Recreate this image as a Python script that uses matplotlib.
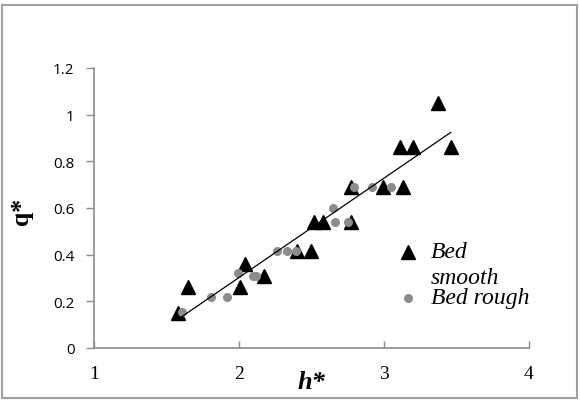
import numpy as np
import matplotlib.pyplot as plt
from matplotlib.patches import Rectangle
from matplotlib.lines import Line2D

# smooth bed (triangles)
h_smooth = [1.58, 1.65, 2.01, 2.04, 2.17, 2.40, 2.50, 2.52, 2.58, 2.77,
            2.77, 2.99, 3.13, 3.11, 3.20, 3.46, 3.37]
q_smooth = [0.15, 0.26, 0.26, 0.36, 0.31, 0.415, 0.415, 0.54, 0.54, 0.54,
            0.69, 0.69, 0.69, 0.86, 0.86, 0.86, 1.05]

# rough bed (circles)
h_rough = [1.61, 1.81, 1.92, 1.99, 2.10, 2.12, 2.26, 2.33, 2.39, 2.65,
           2.66, 2.75, 2.79, 2.92, 3.05]
q_rough = [0.155, 0.22, 0.22, 0.32, 0.31, 0.31, 0.415, 0.415, 0.415, 0.60,
           0.54, 0.54, 0.69, 0.69, 0.69]

x_ticks = [1, 2, 3, 4]
y_ticks = [0, 0.2, 0.4, 0.6, 0.8, 1, 1.2]
y_tick_labels = ['0', '0.2', '0.4', '0.6', '0.8', '1', '1.2']

serif = 'Liberation Serif'
axis_grey = '#8c8c8c'

fig = plt.figure(figsize=(5.8, 4.1), dpi=100)
ax = fig.add_axes([0.162, 0.149, 0.750, 0.683])

ax.plot(h_smooth, q_smooth, '^', color='black', markersize=9.5, zorder=3)
ax.plot(h_rough, q_rough, 'o', color='#8c8c8c', markeredgewidth=0,
        markersize=6.5, zorder=4)

# linear trend line over smooth-bed data
coef = np.polyfit(h_smooth, q_smooth, 1)
xl = np.array([min(h_smooth), max(h_smooth)])
ax.plot(xl, np.polyval(coef, xl), color='black', lw=0.9, zorder=5)

ax.set_xlim(1, 4)
ax.set_ylim(0, 1.2)
ax.set_xticks(x_ticks)
ax.set_xticklabels([str(t) for t in x_ticks], fontfamily=serif, fontsize=14)
ax.set_yticks(y_ticks)
ax.set_yticklabels(y_tick_labels, fontfamily='Open Sans', fontsize=11)
ax.tick_params(axis='x', direction='in', length=5, width=1, color=axis_grey, pad=12)
ax.tick_params(axis='y', direction='out', length=6, width=1, color=axis_grey, pad=8)

for s in ['top', 'right']:
    ax.spines[s].set_visible(False)
for s in ['left', 'bottom']:
    ax.spines[s].set_color(axis_grey)
    ax.spines[s].set_linewidth(1.2)

ax.set_xlabel('h*', fontfamily=serif, fontsize=19, fontweight='bold', style='italic')
ax.xaxis.set_label_coords(0.501, -0.08)
ax.set_ylabel('q*', fontfamily=serif, fontsize=18.5, fontweight='bold')
ax.yaxis.set_label_coords(-0.14, 0.49)

# legend, laid out the way the original wraps its first label
ax.add_line(Line2D([0.722], [0.343], marker='^', color='black', markersize=9.5,
                   linestyle='none', transform=ax.transAxes, clip_on=False))
ax.text(0.775, 0.343, 'Bed', transform=ax.transAxes, fontfamily=serif,
        fontsize=17, style='italic', va='center', ha='left')
ax.text(0.775, 0.250, 'smooth', transform=ax.transAxes, fontfamily=serif,
        fontsize=17, style='italic', va='center', ha='left')
ax.add_line(Line2D([0.722], [0.179], marker='o', color='#8c8c8c', markersize=6.5,
                   markeredgewidth=0, linestyle='none', transform=ax.transAxes,
                   clip_on=False))
ax.text(0.775, 0.180, 'Bed rough', transform=ax.transAxes, fontfamily=serif,
        fontsize=17, style='italic', va='center', ha='left')

fig.patches.append(Rectangle((0.0034, 0.027), 0.991, 0.959, transform=fig.transFigure,
                             fill=False, edgecolor='#a0a0a0', linewidth=1.5))

fig.savefig('out.png', dpi=100)
